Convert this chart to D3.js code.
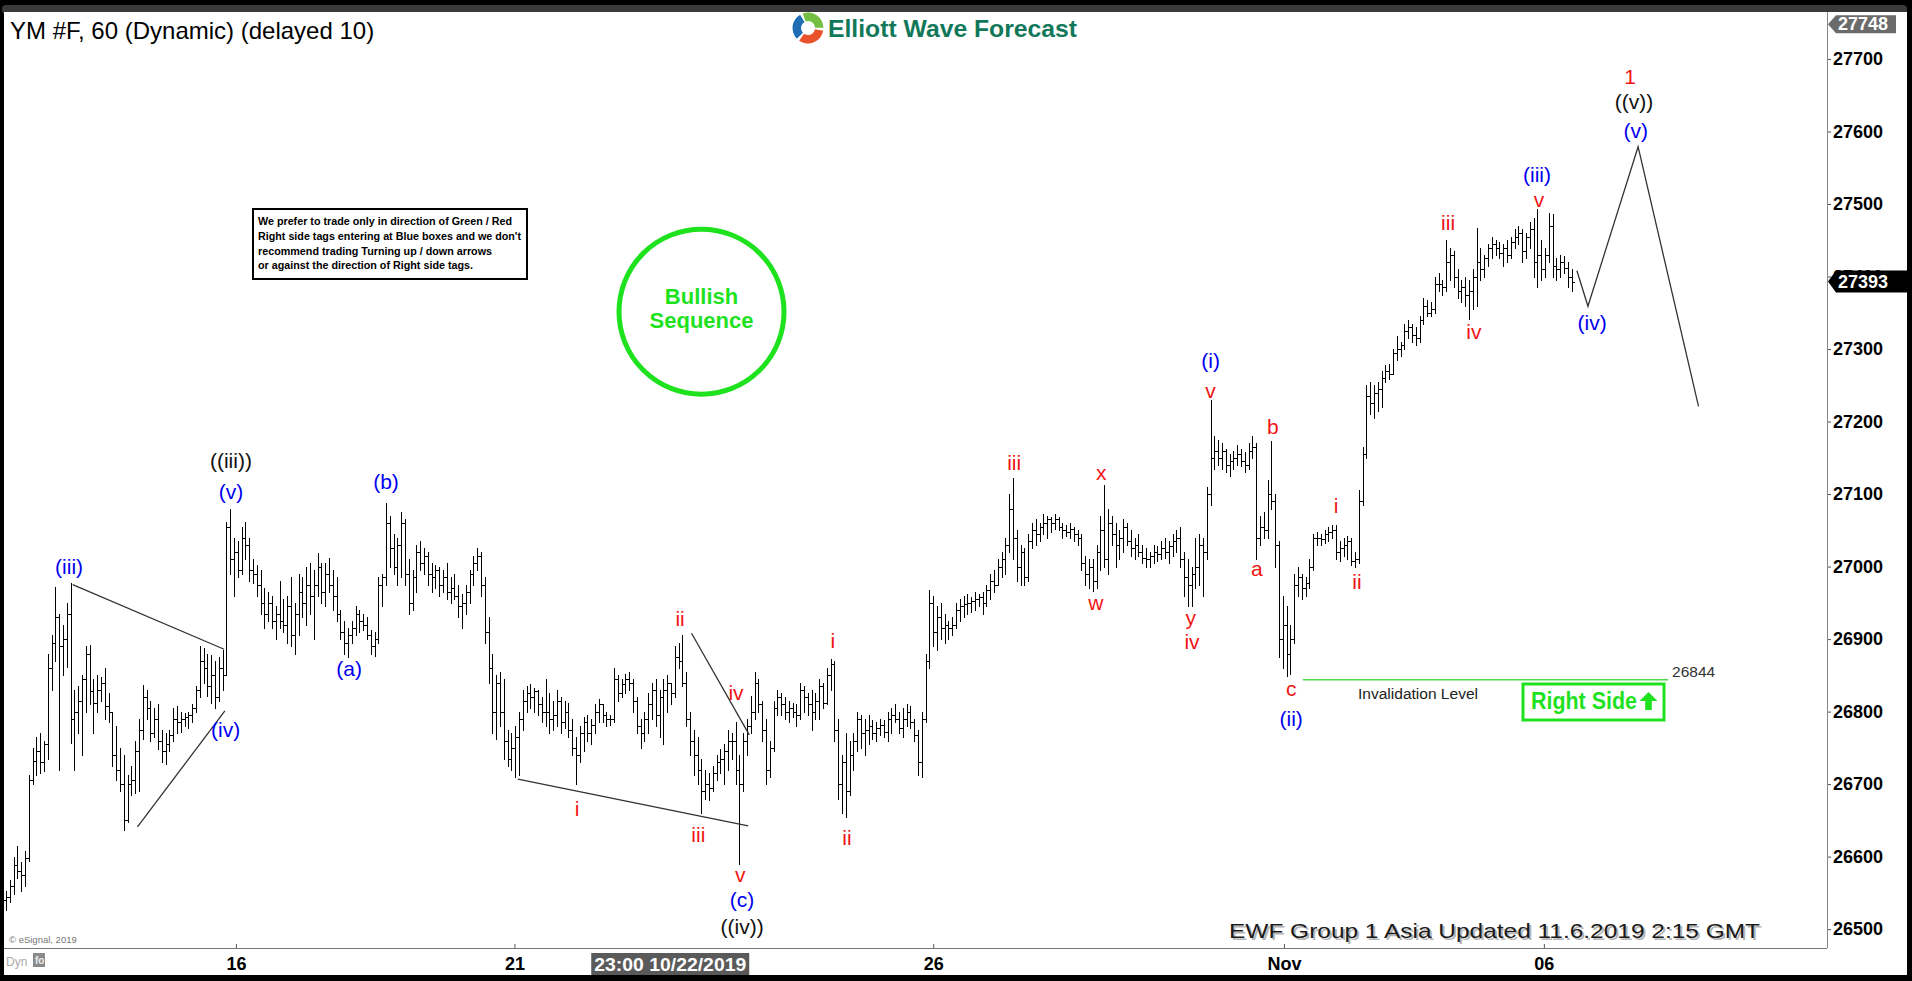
<!DOCTYPE html>
<html><head><meta charset="utf-8">
<script src="https://cdn.jsdelivr.net/npm/d3@7"></script>
<style>
html,body{margin:0;padding:0;background:#000;overflow:hidden}
svg{display:block}
text{font-family:"Liberation Sans",Arial,Helvetica,sans-serif}
</style></head><body>
<svg id="chart" width="1912" height="981"></svg>
<script>
// ---------- DATA (hourly YM bars) ----------
const opens = [
26540,26545,26560,26588,26580,26575,26598,26705,26732,26745,
26730,26755,26860,26895,26930,26890,26900,26935,26790,26800,
26815,26845,26880,26828,26812,26830,26840,26808,26800,26740,
26720,26700,26650,26700,26705,26745,26775,26820,26805,26770,
26790,26760,26745,26755,26768,26790,26785,26790,26792,26795,
26805,26830,26870,26860,26835,26850,26820,26860,26850,27055,
27010,27020,26995,27040,27030,26995,26990,26975,26950,26935,
26950,26925,26935,26925,26920,26945,26905,26935,26965,26950,
26975,26960,26975,27000,26965,26990,26975,26960,26935,26910,
26895,26905,26915,26935,26925,26920,26905,26890,26900,26975,
26985,27060,27025,27000,27030,27060,26990,26950,26985,27020,
27005,27015,26990,26985,26995,26975,26985,26965,26970,26960,
26945,26950,26965,26990,27005,27015,26975,26910,26860,26800,
26840,26800,26760,26735,26750,26765,26790,26815,26825,26820,
26828,26810,26800,26800,26790,26795,26815,26785,26800,26775,
26750,26740,26770,26785,26770,26782,26800,26810,26795,26790,
26790,26845,26825,26838,26845,26840,26815,26780,26770,26790,
26810,26830,26795,26820,26830,26840,26825,26875,26870,26840,
26790,26760,26740,26720,26690,26700,26695,26715,26730,26735,
26745,26760,26760,26720,26700,26760,26780,26800,26840,26810,
26775,26720,26750,26805,26820,26810,26800,26805,26800,26795,
26830,26820,26810,26800,26815,26835,26812,26850,26865,26775,
26700,26730,26690,26740,26760,26790,26770,26775,26780,26770,
26778,26782,26772,26790,26795,26790,26778,26790,26800,26785,
26768,26730,26790,26870,26950,26910,26930,26915,26920,26915,
26920,26940,26945,26948,26950,26952,26955,26958,26950,26968,
26980,26975,27000,27010,27030,27080,27040,27000,27020,26985,
27035,27050,27045,27055,27060,27065,27060,27065,27055,27050,
27048,27052,27045,27040,27005,26990,27000,26980,27020,27050,
27010,27060,27045,27030,27040,27055,27035,27025,27030,27020,
27012,27010,27015,27020,27018,27025,27020,27028,27035,27040,
27010,26985,26975,26990,27000,27030,27020,27100,27150,27160,
27150,27160,27140,27145,27150,27155,27145,27140,27160,27165,
27040,27055,27050,27100,27090,27030,26900,26920,26880,26900,
26975,26985,26970,26978,27000,27040,27040,27038,27045,27048,
27050,27020,27025,27030,27035,27008,27010,27090,27155,27235,
27225,27240,27245,27260,27270,27265,27295,27300,27305,27325,
27330,27320,27315,27340,27360,27350,27355,27390,27390,27385,
27420,27430,27400,27380,27385,27375,27380,27400,27420,27410,
27425,27440,27445,27440,27432,27440,27430,27448,27455,27460,
27435,27455,27465,27420,27430,27410,27430,27470,27415,27410,
27420,27412,27400];
const highs = [
26552,26568,26600,26615,26592,26608,26712,26750,26765,26770,
26760,26880,26905,26972,26935,26920,26950,26977,26830,26835,
26850,26890,26892,26845,26850,26848,26860,26825,26800,26780,
26750,26740,26712,26725,26760,26790,26836,26830,26815,26805,
26810,26775,26770,26775,26805,26808,26800,26798,26800,26810,
26835,26890,26888,26880,26878,26870,26875,26885,27062,27079,
27040,27035,27055,27062,27040,27010,27002,26995,26970,26965,
26960,26945,26980,26955,26960,26985,26950,26990,26985,27000,
27005,26995,27019,27005,27005,27012,26995,26985,26940,26925,
26915,26925,26945,26940,26935,26930,26912,26910,26985,26990,
27088,27070,27045,27040,27075,27065,27010,26995,27030,27035,
27025,27020,27005,27002,27000,26995,27005,26985,26990,26975,
26962,26975,26995,27015,27025,27020,26985,26930,26880,26850,
26855,26845,26775,26770,26780,26800,26830,26835,26838,26832,
26830,26820,26845,26825,26815,26830,26820,26815,26812,26790,
26765,26780,26792,26795,26790,26810,26818,26810,26800,26795,
26860,26850,26845,26852,26855,26845,26820,26790,26800,26825,
26840,26845,26830,26845,26850,26835,26890,26895,26905,26855,
26800,26775,26765,26735,26720,26715,26725,26740,26748,26755,
26775,26770,26785,26740,26770,26790,26822,26855,26845,26815,
26790,26760,26815,26830,26825,26820,26815,26812,26810,26840,
26835,26825,26830,26825,26845,26840,26860,26872,26870,26790,
26740,26770,26760,26770,26800,26795,26790,26795,26788,26785,
26790,26788,26800,26805,26810,26800,26805,26810,26808,26790,
26775,26800,26880,26968,26960,26945,26950,26935,26925,26930,
26950,26955,26960,26962,26958,26965,26962,26965,26975,26990,
26995,27010,27020,27040,27100,27122,27050,27030,27025,27045,
27060,27065,27060,27072,27070,27068,27072,27068,27060,27058,
27060,27055,27050,27045,27015,27010,27010,27030,27070,27112,
27080,27070,27060,27050,27065,27060,27050,27040,27045,27030,
27025,27020,27030,27028,27035,27040,27035,27045,27050,27055,
27020,27010,27000,27040,27045,27040,27110,27230,27180,27175,
27170,27162,27155,27160,27168,27162,27158,27170,27180,27170,
27070,27075,27120,27173,27100,27035,26960,26945,26920,26990,
27000,26990,26985,27010,27045,27048,27045,27050,27055,27058,
27057,27035,27040,27042,27040,27020,27105,27165,27250,27255,
27250,27255,27270,27278,27280,27300,27318,27310,27335,27340,
27335,27330,27345,27370,27368,27365,27400,27405,27395,27450,
27440,27435,27410,27395,27400,27395,27410,27467,27440,27430,
27445,27455,27450,27448,27445,27450,27455,27465,27470,27465,
27460,27475,27480,27493,27450,27440,27488,27486,27425,27430,
27428,27420,27410];
const lows = [
26526,26538,26548,26570,26552,26560,26594,26700,26712,26715,
26718,26735,26830,26870,26720,26850,26862,26757,26720,26770,
26740,26800,26810,26770,26800,26815,26790,26785,26725,26705,
26690,26637,26648,26685,26688,26690,26762,26790,26760,26765,
26748,26730,26728,26745,26760,26770,26772,26780,26778,26785,
26800,26820,26840,26822,26812,26805,26815,26830,26850,26990,
26960,26985,26990,27010,26980,26978,26960,26935,26915,26925,
26915,26900,26915,26910,26895,26890,26880,26905,26930,26920,
26935,26900,26960,26950,26945,26965,26940,26925,26900,26880,
26875,26895,26905,26910,26912,26900,26880,26876,26895,26945,
26975,27000,26990,26975,26985,26975,26935,26940,26965,26995,
26990,26975,26965,26970,26960,26965,26955,26950,26955,26930,
26915,26935,26950,26975,26995,26960,26895,26840,26770,26762,
26780,26735,26725,26720,26710,26712,26775,26800,26805,26800,
26795,26785,26780,26770,26775,26780,26770,26778,26765,26740,
26700,26730,26745,26760,26755,26770,26785,26785,26780,26782,
26785,26815,26820,26825,26830,26800,26770,26750,26760,26770,
26790,26780,26765,26755,26800,26810,26820,26860,26835,26780,
26740,26712,26700,26660,26680,26678,26690,26705,26715,26700,
26720,26735,26700,26590,26690,26740,26770,26790,26800,26760,
26700,26710,26745,26795,26795,26790,26785,26792,26780,26790,
26800,26795,26775,26790,26790,26805,26810,26830,26760,26680,
26660,26655,26685,26720,26745,26750,26740,26755,26762,26760,
26768,26765,26760,26770,26785,26770,26765,26780,26778,26760,
26712,26710,26785,26860,26890,26885,26900,26895,26900,26905,
26915,26925,26930,26935,26938,26940,26945,26935,26945,26955,
26965,26975,26985,26990,27020,27010,26980,26975,26975,26980,
27025,27030,27035,27045,27040,27048,27052,27050,27040,27042,
27040,27035,27030,26995,26975,26970,26966,26970,26995,27000,
26990,27030,27000,27010,27020,27030,27015,27010,27015,27005,
27000,27000,27005,27008,27010,27012,27005,27015,27020,27000,
26960,26945,26946,26970,26975,26960,27010,27085,27135,27140,
27135,27130,27125,27135,27140,27138,27130,27135,27150,27010,
27030,27040,27040,27080,27000,26875,26860,26849,26852,26895,
26960,26955,26960,26970,26995,27030,27030,27032,27035,27040,
27010,27008,27015,27010,27002,27000,27005,27085,27150,27210,
27205,27215,27220,27255,27258,27265,27285,27290,27300,27315,
27310,27305,27310,27335,27345,27345,27350,27380,27375,27380,
27395,27385,27370,27365,27360,27341,27355,27360,27395,27400,
27415,27425,27430,27425,27415,27420,27425,27440,27445,27420,
27425,27440,27400,27385,27395,27400,27420,27400,27395,27400,
27405,27385,27380];
const closes = [
26545,26560,26588,26580,26575,26598,26705,26732,26745,26730,
26755,26860,26895,26930,26890,26900,26935,26790,26800,26815,
26845,26880,26828,26812,26830,26840,26808,26800,26740,26720,
26700,26650,26700,26705,26745,26775,26820,26805,26770,26790,
26760,26745,26755,26768,26790,26785,26790,26792,26795,26805,
26830,26870,26860,26835,26850,26820,26860,26850,27055,27010,
27020,26995,27040,27030,26995,26990,26975,26950,26935,26950,
26925,26935,26925,26920,26945,26905,26935,26965,26950,26975,
26960,26975,27000,26965,26990,26975,26960,26935,26910,26895,
26905,26915,26935,26925,26920,26905,26890,26900,26975,26985,
27060,27025,27000,27030,27060,26990,26950,26985,27020,27005,
27015,26990,26985,26995,26975,26985,26965,26970,26960,26945,
26950,26965,26990,27005,27015,26975,26910,26860,26800,26840,
26800,26760,26735,26750,26765,26790,26815,26825,26820,26828,
26810,26800,26800,26790,26795,26815,26785,26800,26775,26750,
26740,26770,26785,26770,26782,26800,26810,26795,26790,26790,
26845,26825,26838,26845,26840,26815,26780,26770,26790,26810,
26830,26795,26820,26830,26840,26825,26875,26870,26840,26790,
26760,26740,26720,26690,26700,26695,26715,26730,26735,26745,
26760,26760,26720,26700,26760,26780,26800,26840,26810,26775,
26720,26750,26805,26820,26810,26800,26805,26800,26795,26830,
26820,26810,26800,26815,26835,26812,26850,26865,26775,26700,
26730,26690,26740,26760,26790,26770,26775,26780,26770,26778,
26782,26772,26790,26795,26790,26778,26790,26800,26785,26768,
26730,26790,26870,26950,26910,26930,26915,26920,26915,26920,
26940,26945,26948,26950,26952,26955,26958,26950,26968,26980,
26975,27000,27010,27030,27080,27040,27000,27020,26985,27035,
27050,27045,27055,27060,27065,27060,27065,27055,27050,27048,
27052,27045,27040,27005,26990,27000,26980,27020,27050,27010,
27060,27045,27030,27040,27055,27035,27025,27030,27020,27012,
27010,27015,27020,27018,27025,27020,27028,27035,27040,27010,
26985,26975,26990,27000,27030,27020,27100,27150,27160,27150,
27160,27140,27145,27150,27155,27145,27140,27160,27165,27040,
27055,27050,27100,27090,27030,26900,26920,26880,26900,26975,
26985,26970,26978,27000,27040,27040,27038,27045,27048,27050,
27020,27025,27030,27035,27008,27010,27090,27155,27235,27225,
27240,27245,27260,27270,27265,27295,27300,27305,27325,27330,
27320,27315,27340,27360,27350,27355,27390,27390,27385,27420,
27430,27400,27380,27385,27375,27380,27400,27420,27410,27425,
27440,27445,27440,27432,27440,27430,27448,27455,27460,27435,
27455,27465,27420,27430,27410,27430,27470,27415,27410,27420,
27412,27400,27393];

// axis ticks
const yTicks = [26500,26600,26700,26800,26900,27000,27100,27200,27300,27400,27500,27600,27700];
const dayLabels = ["16","21","26","Nov","06"];
const dayIdx = [60.5,133.8,244,336.3,404.7];
const cursorLabel = "23:00 10/22/2019";
const cursorIdx = 174.8;
const lastPrice = 27393;
const highPrice = 27748;

// Elliott wave labels: text, bar index, price, degree
const waveText  = ["(iii)","((iii))","(v)","(iv)","(a)","(b)","i","ii","iii","iv","v","(c)","((iv))","i","ii","iii","w","x","y","iv","(i)","v","a","b","c","(ii)","i","ii","iii","iv","(iii)","v","(iv)","(v)","((v))","1"];
const waveIdx   = [16.6,59.2,59.2,57.8,90.3,100,150.3,177.4,182.2,192.1,193.2,193.7,193.7,217.6,221.3,265.3,286.8,288.2,311.8,312.1,317,317,329.2,333.4,338.2,338.2,350,355.5,379.5,386.3,402.9,403.4,417.4,428.9,428.4,427.4];
const wavePrice = [27000,27146,27103,26775,26859,27117,26666,26928,26631,26827,26575,26541,26503,26898,26627,27144,26950,27130,26930,26896,27284,27243,26998,27193,26832,26791,27084,26980,27474,27324,27541,27506,27337,27602,27641,27676];
const waveDegree= ["minute","minor","minute","minute","minute","minute","sub","sub","sub","sub","sub","minute","minor","sub","sub","sub","sub","sub","sub","sub","minute","sub","sub","sub","sub","minute","sub","sub","sub","sub","minute","sub","minute","minute","minor","cycle"];

// trend lines (start index, start price, end index, end price)
const trendStartIdx = [17.55,34.6,134.7,180.4];
const trendStartPx  = [26975,26641,26707,26908];
const trendEndIdx   = [57.4,57.6,195.3,195.6];
const trendEndPx    = [26886,26801,26642.5,26768];

// projected path
const projIdx = [413.4,416.3,429.5,445.4];
const projPrice = [27408,27359,27579,27221];

// invalidation level
const invLevel = 26844;
const invIdx = [341.3,437.4];

const disclaimer = ["We prefer to trade only in direction of Green / Red",
 "Right side tags entering at Blue boxes and we don't",
 "recommend trading Turning up / down arrows",
 "or against the direction of Right side tags."];

// ---------- DRAW ----------
const W = 1912, H = 981;
const PL = 4, PR = 1827, PT = 12, PB = 948;
const svg = d3.select("#chart");
const x = d3.scaleLinear().domain([0,480]).range([6,1830]);
const y = d3.scaleLinear().domain([26474,27762]).range([948,14]);
const FONT = '"Liberation Sans",Arial,sans-serif';

svg.append("rect").attr("width",W).attr("height",H).attr("fill","#000");
svg.append("rect").attr("x",2).attr("y",5).attr("width",1905).attr("height",9).attr("rx",4).attr("fill","#3a3a3a");
svg.append("rect").attr("x",PL).attr("y",12).attr("width",1907-PL).attr("height",975-12).attr("fill","#fff");

svg.append("defs").append("clipPath").attr("id","plotclip")
  .append("rect").attr("x",PL).attr("y",PT).attr("width",PR-PL).attr("height",PB-PT);

// title
svg.append("text").attr("x",10).attr("y",38.5).attr("font-size",24).attr("fill","#000")
  .text("YM #F, 60 (Dynamic) (delayed 10)");

// logo
const logo = svg.append("g").attr("transform","translate(808,28)");
const arc = d3.arc().innerRadius(7).outerRadius(15.5);
[[-0.35,1.55,"#74bf43"],[1.75,3.75,"#e9522b"],[3.95,5.75,"#1f6db4"]].forEach(a=>{
  logo.append("path").attr("d",arc({startAngle:a[0],endAngle:a[1]})).attr("fill",a[2]);
});
svg.append("text").attr("x",828).attr("y",37).attr("font-size",24).attr("font-weight","bold")
  .attr("fill","#12785a").attr("textLength",249).attr("lengthAdjust","spacingAndGlyphs")
  .text("Elliott Wave Forecast");

// disclaimer box
svg.append("rect").attr("x",253).attr("y",209).attr("width",274).attr("height",70)
  .attr("fill","#fff").attr("stroke","#000").attr("stroke-width",2);
const dLens = [254,263,234,215];
disclaimer.forEach((t,k)=>{
  svg.append("text").attr("x",258).attr("y",225+k*14.8).attr("font-size",11.5).attr("font-weight","bold")
    .attr("textLength",dLens[k]).attr("lengthAdjust","spacingAndGlyphs").attr("fill","#000").text(t);
});

// bullish sequence circle
const GREEN = "#1fe21f";
svg.append("circle").attr("cx",701.5).attr("cy",311.7).attr("r",82.5)
  .attr("fill","none").attr("stroke",GREEN).attr("stroke-width",5);
svg.append("text").attr("x",701.5).attr("y",303.5).attr("text-anchor","middle").attr("font-size",22)
  .attr("font-weight","bold").attr("fill",GREEN).text("Bullish");
svg.append("text").attr("x",701.5).attr("y",328).attr("text-anchor","middle").attr("font-size",22)
  .attr("font-weight","bold").attr("fill",GREEN).text("Sequence");

// price bars
const plot = svg.append("g").attr("clip-path","url(#plotclip)");
let dBar = "";
closes.forEach((c,i)=>{
  const xx = Math.round(x(i)) + 0.5;
  const hi = Math.max(highs[i],opens[i],c), lo = Math.min(lows[i],opens[i],c);
  const yh = Math.round(y(hi)), yl = Math.round(y(lo)) + 1;
  const yo = Math.round(y(opens[i])) + 0.5, yc = Math.round(y(c)) + 0.5;
  dBar += `M${xx},${yh}V${yl}M${xx-2.5},${yo}H${xx}M${xx},${yc}H${xx+2.5}`;
});
plot.append("path").attr("d",dBar).attr("fill","none").attr("stroke","#000").attr("stroke-width",1);

// trend lines
trendStartIdx.forEach((s,k)=>{
  plot.append("line").attr("x1",x(s)).attr("y1",y(trendStartPx[k]))
    .attr("x2",x(trendEndIdx[k])).attr("y2",y(trendEndPx[k]))
    .attr("stroke","#333").attr("stroke-width",1.3);
});

// projection
plot.append("path").datum(projIdx.map((d,k)=>[d,projPrice[k]]))
  .attr("d",d3.line().x(d=>x(d[0])).y(d=>y(d[1])))
  .attr("fill","none").attr("stroke","#333").attr("stroke-width",1.3);

// invalidation
const yInv = y(invLevel);
plot.append("line").attr("x1",x(invIdx[0])).attr("x2",x(invIdx[1])).attr("y1",yInv).attr("y2",yInv)
  .attr("stroke","#4cd94c").attr("stroke-width",1.5);
svg.append("text").attr("x",x(invIdx[1])+4).attr("y",yInv-3).attr("font-size",15.5).attr("fill","#333")
  .text(invLevel);
svg.append("text").attr("x",1358).attr("y",yInv+19).attr("font-size",15.5).attr("fill","#222")
  .attr("textLength",120).attr("lengthAdjust","spacingAndGlyphs").text("Invalidation Level");

// right side box
svg.append("rect").attr("x",1523).attr("y",684).attr("width",141).attr("height",36)
  .attr("fill","#fff").attr("stroke",GREEN).attr("stroke-width",3);
svg.append("text").attr("x",1531).attr("y",708.5).attr("font-size",23).attr("font-weight","bold")
  .attr("fill",GREEN).attr("textLength",106).attr("lengthAdjust","spacingAndGlyphs").text("Right Side");
svg.append("polygon").attr("points","1648.5,692 1657.5,701 1651.8,701 1651.8,710 1645.2,710 1645.2,701 1639.5,701")
  .attr("fill",GREEN);

// wave labels
const degColor = {minute:"#0000f0", minor:"#111", sub:"#f01414", cycle:"#f01414"};
svg.append("g").selectAll("text").data(waveText).join("text")
  .attr("x",(d,k)=>x(waveIdx[k])).attr("y",(d,k)=>y(wavePrice[k]))
  .attr("text-anchor","middle").attr("dominant-baseline","central")
  .attr("font-size",21).attr("fill",(d,k)=>degColor[waveDegree[k]]).text(d=>d);

// bottom-right stamp
const stamp = "EWF Group 1 Asia Updated 11.6.2019 2:15 GMT";
svg.append("text").attr("x",1231).attr("y",940).attr("font-size",21).attr("fill","#b5b5b5")
  .attr("textLength",531).attr("lengthAdjust","spacingAndGlyphs").text(stamp);
svg.append("text").attr("x",1229).attr("y",938).attr("font-size",21).attr("fill","#1a1a1a")
  .attr("textLength",531).attr("lengthAdjust","spacingAndGlyphs").text(stamp);

svg.append("text").attr("x",9).attr("y",943).attr("font-size",9.5).attr("fill","#777").text("© eSignal, 2019");

// right y axis (27400 sits under the last-price tag, as in the original)
const yAxis = d3.axisRight(y).tickValues(yTicks).tickSizeInner(4).tickSizeOuter(0).tickPadding(2)
  .tickFormat(d3.format("d"));
const gy = svg.append("g").attr("transform",`translate(${PR},0)`).call(yAxis);
gy.select(".domain").remove();
gy.selectAll(".tick line").attr("stroke","#555");
gy.selectAll(".tick text").attr("font-family",FONT).attr("font-size",18).attr("font-weight","bold").attr("fill","#000");
svg.append("line").attr("x1",PR+0.5).attr("x2",PR+0.5).attr("y1",12).attr("y2",PB).attr("stroke","#888");

// price tags
const yH = y(highPrice);
svg.append("polygon").attr("points",`${PR+1},${yH} ${PR+9},${yH-9} 1896,${yH-9} 1896,${yH+9} ${PR+9},${yH+9}`)
  .attr("fill","#6b6b6b");
svg.append("text").attr("x",1838).attr("y",yH).attr("dominant-baseline","central").attr("font-size",18)
  .attr("font-weight","bold").attr("fill","#fff").text(highPrice);
const yL = y(lastPrice);
svg.append("polygon").attr("points",`${PR+1},${yL} ${PR+9},${yL-11} 1907,${yL-11} 1907,${yL+11} ${PR+9},${yL+11}`)
  .attr("fill","#000");
svg.append("text").attr("x",1838).attr("y",yL).attr("dominant-baseline","central").attr("font-size",18)
  .attr("font-weight","bold").attr("fill","#fff").text(lastPrice);

// bottom x axis
const xAxis = d3.axisBottom(x).tickValues(dayIdx).tickSizeInner(-4).tickSizeOuter(0).tickPadding(9)
  .tickFormat((d,k)=>dayLabels[k]);
const gx = svg.append("g").attr("transform",`translate(0,${PB})`).call(xAxis);
gx.select(".domain").remove();
gx.selectAll(".tick line").attr("stroke","#555");
gx.selectAll(".tick text").attr("font-family",FONT).attr("font-size",18).attr("font-weight","bold").attr("fill","#000");
svg.append("line").attr("x1",PL).attr("x2",PR).attr("y1",PB+0.5).attr("y2",PB+0.5).attr("stroke","#777");

// cursor date box
const cx = x(cursorIdx);
svg.append("rect").attr("x",cx-79).attr("y",953).attr("width",158).attr("height",22).attr("fill","#5a5a5a");
svg.append("text").attr("x",cx).attr("y",970.5).attr("text-anchor","middle").attr("font-size",19)
  .attr("font-weight","bold").attr("fill","#fff").attr("textLength",152).attr("lengthAdjust","spacingAndGlyphs")
  .text(cursorLabel);

// Dyn marker
svg.append("text").attr("x",6).attr("y",966).attr("font-size",12).attr("fill","#aaa").text("Dyn");
svg.append("rect").attr("x",33).attr("y",953).attr("width",12).attr("height",14).attr("fill","#8a8a8a");
svg.append("text").attr("x",35).attr("y",964).attr("font-size",10).attr("font-weight","bold").attr("fill","#eee").text("fo");
</script>
</body></html>
